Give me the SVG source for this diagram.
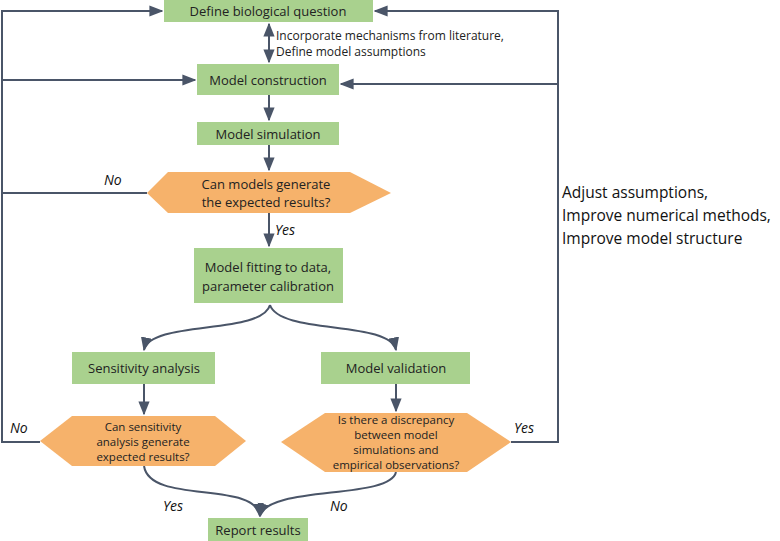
<svg xmlns="http://www.w3.org/2000/svg" width="780" height="541" viewBox="0 0 780 541">
<defs>
<marker id="ah" viewBox="0 0 10 10" refX="9" refY="5" markerWidth="7" markerHeight="7" orient="auto-start-reverse"><path d="M0,1 L10,5 L0,9 z" fill="#4a5568"/></marker>
<style>
.box{fill:#a9d18e}
.hex{fill:#f6b26b}
.t{font-family:"Open Sans","Liberation Sans",sans-serif;font-size:13px;fill:#222;text-anchor:middle}
.s{font-size:11.5px}
.i{font-family:"Open Sans","Liberation Sans",sans-serif;font-size:14px;font-style:italic;fill:#111}
.c{fill:none;stroke:#4a5568;stroke-width:2}
.n{font-family:"Open Sans","Liberation Sans",sans-serif;font-size:12px;fill:#222}
.r{font-family:"Open Sans","Liberation Sans",sans-serif;font-size:15.5px;fill:#111}
</style>
</defs>
<rect width="780" height="541" fill="#fff"/>
<g id="connectors">
<path class="c" d="M269,24 V62" marker-start="url(#ah)" marker-end="url(#ah)"/>
<path class="c" d="M269,95 V120" marker-end="url(#ah)"/>
<path class="c" d="M269,145 V170" marker-end="url(#ah)"/>
<path class="c" d="M269,213 V246" marker-end="url(#ah)"/>
<path class="c" d="M147,193 H2 V11 H162" marker-end="url(#ah)"/>
<path class="c" d="M2,80 H195" marker-end="url(#ah)"/>
<path class="c" d="M40,442 H2 V193"/>
<path class="c" d="M511,442 H558 V11 H375" marker-end="url(#ah)"/>
<path class="c" d="M558,84 H341" marker-end="url(#ah)"/>
<path class="c" d="M270,305 C262,335 150,320 144,350" marker-end="url(#ah)"/>
<path class="c" d="M270,305 C280,335 390,320 396,350" marker-end="url(#ah)"/>
<path class="c" d="M144,384 V414" marker-end="url(#ah)"/>
<path class="c" d="M396,384 V411" marker-end="url(#ah)"/>
<path class="c" d="M144,466 C150,505 255,480 260,516" marker-end="url(#ah)"/>
<path class="c" d="M396,472 C390,500 268,485 260,516" marker-end="url(#ah)"/>
</g>
<g id="define"><rect class="box" x="164" y="0" width="209" height="22"/><text class="t" x="268" y="16">Define biological question</text></g>
<text class="n" x="276" y="40">Incorporate mechanisms from literature,</text>
<text class="n" x="276" y="56">Define model assumptions</text>
<g id="construction"><rect class="box" x="197" y="64" width="142" height="31"/><text class="t" x="268" y="85">Model construction</text></g>
<g id="simulation"><rect class="box" x="197" y="122" width="142" height="23"/><text class="t" x="268" y="139">Model simulation</text></g>
<g id="q1"><polygon class="hex" points="147,193 168,172 350,172 391,193 350,213 168,213"/><text class="t" x="266" y="189">Can models generate</text><text class="t" x="266" y="207">the expected results?</text></g>
<g id="fitting"><rect class="box" x="194" y="248" width="149" height="55"/><text class="t" x="268" y="272">Model fitting to data,</text><text class="t" x="268" y="291">parameter calibration</text></g>
<g id="sensitivity"><rect class="box" x="72" y="352" width="143" height="32"/><text class="t" x="144" y="373">Sensitivity analysis</text></g>
<g id="validation"><rect class="box" x="321" y="352" width="149" height="32"/><text class="t" x="396" y="373">Model validation</text></g>
<g id="q2"><polygon class="hex" points="40,441 72,416 215,416 246,441 215,466 72,466"/><text class="t s" x="143" y="431">Can sensitivity</text><text class="t s" x="143" y="446">analysis generate</text><text class="t s" x="143" y="461">expected results?</text></g>
<g id="q3"><polygon class="hex" points="281,442 325,413 467,413 511,442 467,472 325,472"/><text class="t s" x="396" y="424">Is there a discrepancy</text><text class="t s" x="396" y="439">between model</text><text class="t s" x="396" y="454">simulations and</text><text class="t s" x="396" y="469">empirical observations?</text></g>
<g id="report"><rect class="box" x="208" y="518" width="100" height="23"/><text class="t" x="258" y="535">Report results</text></g>
<text class="i" x="104" y="185">No</text>
<text class="i" x="275" y="235">Yes</text>
<text class="i" x="10" y="433">No</text>
<text class="i" x="514" y="433">Yes</text>
<text class="i" x="163" y="511">Yes</text>
<text class="i" x="330" y="511">No</text>
<text class="r" x="562" y="198">Adjust assumptions,</text>
<text class="r" x="562" y="221">Improve numerical methods,</text>
<text class="r" x="562" y="244">Improve model structure</text>
</svg>
